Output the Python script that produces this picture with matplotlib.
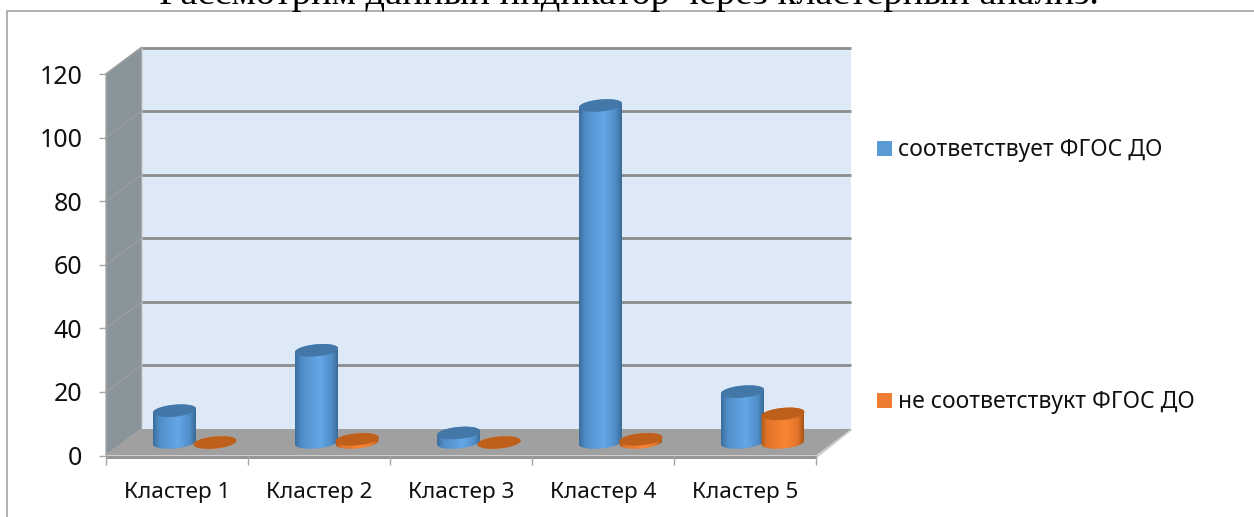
import numpy as np
import matplotlib
matplotlib.use("Agg")
import matplotlib.pyplot as plt
from matplotlib.patches import Polygon, Patch
from matplotlib.lines import Line2D
from matplotlib.colors import LinearSegmentedColormap

categories = ["Кластер 1", "Кластер 2", "Кластер 3", "Кластер 4", "Кластер 5"]
series_names = ["соответствует ФГОС ДО", "не соответствукт ФГОС ДО"]
values_match = [10, 29, 3, 106, 16]
values_other = [0, 1, 0, 1, 9]
y_ticks = [0, 20, 40, 60, 80, 100, 120]
title = "Рассмотрим данный индикатор через кластерный анализ."

W, H = 1254, 517
fig = plt.figure(figsize=(W / 100, H / 100), dpi=100, facecolor="white")
L, R, B, T = 106, 816, 455.5, 74
ax = fig.add_axes([L / W, 1 - B / H, (R - L) / W, (B - T) / H])
ax.patch.set_visible(False)
for s in ax.spines.values():
    s.set_visible(False)

sx = (R - L) / 5
sy = (B - T) / 120
DX, DY = 35.5 / sx, 26.5 / sy          # depth offset in data units
A, E = 21.5 / sx, 6.0 / sy             # half width, half height of the cap
K = 0.09 * sx / sy                     # slant of the cap


def back(x, y):
    return x + DX, y + DY


def add_poly(pts, **kw):
    p = Polygon(pts, closed=True, transform=ax.transData, clip_on=False, **kw)
    ax.add_patch(p)
    return p


# walls and floor
add_poly([back(0, 0), back(5, 0), back(5, 120), back(0, 120)], fc="#DEE9F7", ec="none", zorder=1)
add_poly([(0, 0), back(0, 0), back(0, 120), (0, 120)], fc="#8A949B", ec="#A8A8A8", lw=1, zorder=1.1)
add_poly([(0, 0), (5, 0), back(5, 0), back(0, 0)], fc="#A0A0A0", ec="none", zorder=1.2)
add_poly([(0, 0), (5, 0), (5, -3 / sy), (0, -3 / sy)], fc="#969696", ec="none", zorder=1.2)
add_poly([(5, 0), back(5, 0), (5 + DX, DY - 1.5 / sy), (5, -3 / sy)], fc="#C8C8C8", ec="none", zorder=1.2)

for v in y_ticks:
    bx0, by0 = back(0, v)
    bx1, by1 = back(5, v)
    if v > 0:
        ax.plot([0, bx0], [v, by0], color="#9C9C9C", lw=1.1, clip_on=False, zorder=1.3)
        ax.plot([bx0, bx1], [by0, by1], color="#8C8C8C", lw=2.0, clip_on=False,
                solid_capstyle="butt", zorder=1.4)

blue_cmap = LinearSegmentedColormap.from_list(
    "b", [(0, "#3A6C9B"), (0.14, "#4F8CC6"), (0.58, "#64A8E8"), (0.86, "#4F8CC6"), (1, "#3A6A94")])
orange_cmap = LinearSegmentedColormap.from_list(
    "o", [(0, "#B05A18"), (0.14, "#E0742A"), (0.58, "#FB8534"), (0.86, "#E0742A"), (1, "#A85414")])
grad = np.linspace(0, 1, 256).reshape(1, -1)
t = np.linspace(0, 2 * np.pi, 120)


def cylinder(cx, base, value, cmap, cap, z):
    top = base + value
    lower = t[t >= np.pi]
    upper = t[t <= np.pi]
    xb = cx + A * np.cos(lower)
    yb = base + E * np.sin(lower) + K * A * np.cos(lower)
    xu = cx + A * np.cos(upper)
    yu = top + E * np.sin(upper) + K * A * np.cos(upper)
    body = add_poly(np.c_[np.r_[xb, xu], np.r_[yb, yu]], fc="none", ec="none", zorder=z)
    im = ax.imshow(grad, cmap=cmap, aspect="auto", zorder=z, interpolation="bilinear",
                   extent=[cx - A, cx + A, base - 2 * E, top + 2 * E])
    im.set_clip_path(body)
    add_poly(np.c_[cx + A * np.cos(t), top + E * np.sin(t) + K * A * np.cos(t)],
             fc=cap, ec="none", zorder=z + 0.1)


BASE = 13 / sy
for i, (a, b) in enumerate(zip(values_match, values_other)):
    cylinder(i + 68.5 / sx, BASE, a, blue_cmap, "#4377A8", 2 + i)
    cylinder(i + 109 / sx, BASE, b, orange_cmap, "#BE5F1C", 2.5 + i)

ax.set_xlim(0, 5)
ax.set_ylim(0, 120)

tick_c = "#A6A6A6"
label_font = "Noto Sans"
ax.set_yticks(y_ticks)
ax.set_xticks(range(6))
ax.set_xticks([i + 0.5 for i in range(5)], minor=True)
ax.set_xticklabels([""] * 6)
ax.set_xticklabels(categories, minor=True, fontsize=16.2, family=label_font, color="#111111")
ax.tick_params(axis="x", which="major", length=6.5, width=1, color=tick_c)
ax.tick_params(axis="x", which="minor", length=0, pad=19)
ax.tick_params(axis="y", length=5, width=1, color=tick_c, labelsize=18, pad=12, labelcolor="#111111")
for lab in ax.get_yticklabels():
    lab.set_family(label_font)

handles = [Patch(fc="#5B9BD5", ec="none"), Patch(fc="#ED7D31", ec="none")]
fig.legend(handles, series_names, loc="upper left", bbox_to_anchor=(859 / W, 1 - 120 / H),
           frameon=False, prop={"family": label_font, "size": 16.5}, handlelength=0.65,
           handleheight=0.65, handletextpad=0.26, labelspacing=9.95, borderpad=0.3, labelcolor="#111111")

fig.add_artist(Line2D([7 / W, 7 / W, 1], [0, 1 - 10.5 / H, 1 - 10.5 / H], color="#A9A9A9", lw=1.3))
fig.text(629 / W, 1 - 4 / H, title, family="Liberation Serif", fontsize=27.6,
         ha="center", va="baseline", color="black")

fig.savefig("out.png", dpi=100)
